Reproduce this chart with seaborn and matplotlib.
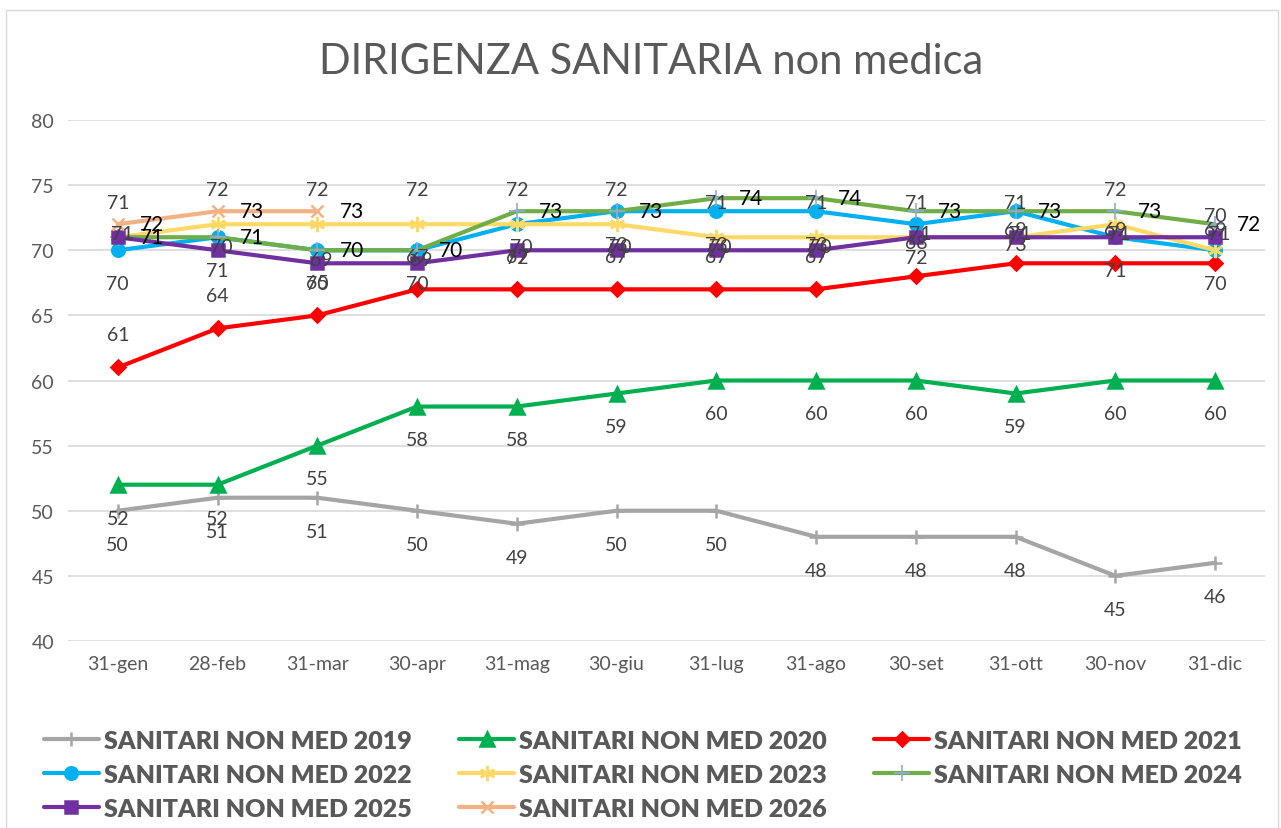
import matplotlib
matplotlib.use("Agg")
import pandas as pd
import seaborn as sns
from matplotlib import pyplot as plt
from matplotlib.patches import Rectangle

months = ['31-gen', '28-feb', '31-mar', '30-apr', '31-mag', '30-giu',
          '31-lug', '31-ago', '30-set', '31-ott', '30-nov', '31-dic']

s2019 = [50, 51, 51, 50, 49, 50, 50, 48, 48, 48, 45, 46]
s2020 = [52, 52, 55, 58, 58, 59, 60, 60, 60, 59, 60, 60]
s2021 = [61, 64, 65, 67, 67, 67, 67, 67, 68, 69, 69, 69]
s2022 = [70, 71, 70, 70, 72, 73, 73, 73, 72, 73, 71, 70]
s2023 = [71, 72, 72, 72, 72, 72, 71, 71, 71, 71, 72, 70]
s2024 = [71, 71, 70, 70, 73, 73, 74, 74, 73, 73, 73, 72]
s2025 = [71, 70, 69, 69, 70, 70, 70, 70, 71, 71, 71, 71]
s2026 = [72, 73, 73]

y_ticks = [40, 45, 50, 55, 60, 65, 70, 75, 80]

# name, values, colour, marker, marker size, label offset (pt), label colour
series = [
    ("SANITARI NON MED 2019", s2019, "#A5A5A5", "+", 10, (0, -24), "#404040"),
    ("SANITARI NON MED 2020", s2020, "#00B050", "^", 10, (0, -24), "#404040"),
    ("SANITARI NON MED 2021", s2021, "#FF0000", "D", 7, (0, 24), "#404040"),
    ("SANITARI NON MED 2022", s2022, "#00B0F0", "o", 9, (0, -24), "#404040"),
    ("SANITARI NON MED 2023", s2023, "#FFD966", (6, 2, 0), 11, (0, 25), "#404040"),
    ("SANITARI NON MED 2024", s2024, "#70AD47", "+", 11, (16, 0), "#000000"),
    ("SANITARI NON MED 2025", s2025, "#7030A0", "s", 9, (3, 3), "#404040"),
    ("SANITARI NON MED 2026", s2026, "#F4B183", "x", 9, (16, 0), "#000000"),
]

sns.set_theme(style="white")
plt.rcParams['font.family'] = ['Lato', 'DejaVu Sans']

fig = plt.figure(figsize=(12.81, 8.29), dpi=100)
ax = fig.add_axes([0.053, 0.2256, 0.9345, 0.6284])

for name, vals, color, marker, ms, offset, lcolor in series:
    df = pd.DataFrame({"x": range(len(vals)), "y": vals})
    mec = "#8FAADC" if name.endswith("2024") else color
    mew = 1.2 if name.endswith("2024") else 1.8
    sns.lineplot(data=df, x="x", y="y", ax=ax, color=color, linewidth=3,
                 marker=marker, markersize=ms, markeredgecolor=mec,
                 markerfacecolor=color, markeredgewidth=mew, label=name)
    for i, v in enumerate(vals):
        ha = "left" if offset[0] > 5 else "center"
        ax.annotate(str(v), (i, v), xytext=offset, textcoords="offset points",
                    ha=ha, va="center", fontsize=15 if lcolor == "#000000" else 14,
                    color=lcolor, zorder=10)

h, l = ax.get_legend_handles_labels()
ax.get_legend().remove()
order = [0, 3, 6, 1, 4, 7, 2, 5]
fig.legend([h[i] for i in order], [l[i] for i in order], ncol=3,
           loc="upper center", bbox_to_anchor=(0.502, 0.13), frameon=False,
           prop={"weight": "heavy", "size": 18}, labelcolor="#595959",
           handlelength=2.2, handletextpad=0.2, columnspacing=1.9,
           labelspacing=0.48, borderaxespad=0)

ax.set_xlim(-0.5, 11.5)
ax.set_ylim(40, 80)
ax.set_xticks(range(len(months)))
ax.set_xticklabels(months)
ax.set_yticks(y_ticks)
ax.tick_params(axis="both", labelsize=14, colors="#595959", length=0, pad=10)
ax.set_xlabel("")
ax.set_ylabel("")
ax.grid(axis="y", color="#D9D9D9", linewidth=1.2)
ax.set_axisbelow(True)
for sp in ax.spines.values():
    sp.set_visible(False)

fig.text(0.508, 0.925, "DIRIGENZA SANITARIA non medica", ha="center",
         va="center", fontsize=30, color="#595959")

fig.patches.append(Rectangle((0.005, -0.01), 0.993, 0.997, transform=fig.transFigure,
                             fill=False, edgecolor="#D9D9D9", linewidth=1))

fig.savefig("out.png", dpi=100)
